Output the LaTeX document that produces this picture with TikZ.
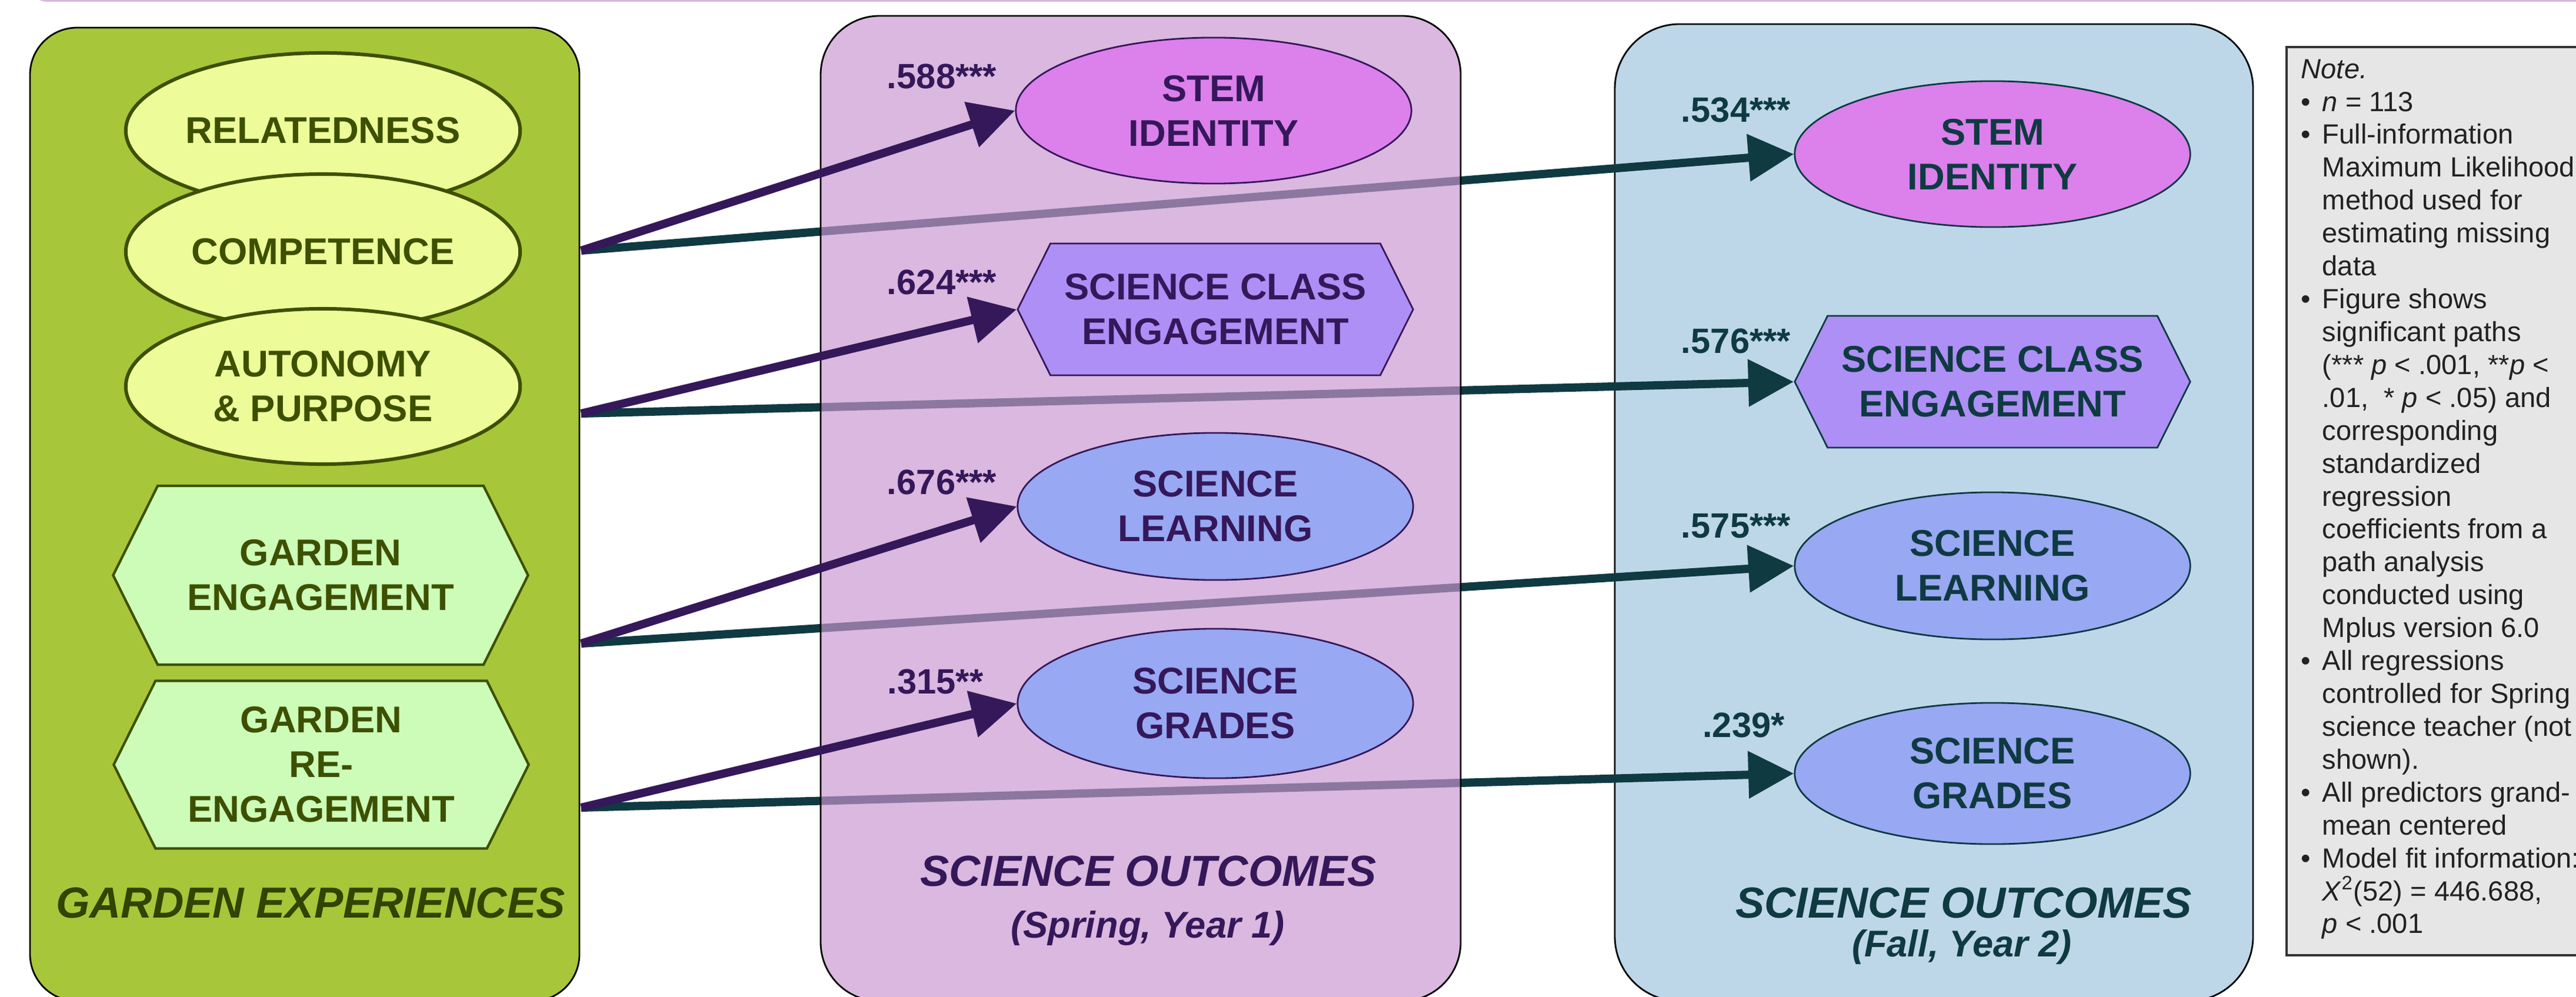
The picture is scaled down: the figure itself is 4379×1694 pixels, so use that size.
\documentclass[tikz,border=0pt]{standalone}
\usepackage{fontspec}
\setmainfont{Liberation Sans}
\usetikzlibrary{shapes.geometric,shapes.symbols,arrows.meta}

\definecolor{topbar}{RGB}{218,184,223}
\definecolor{gpanel}{RGB}{168,198,57}
\definecolor{gfill}{RGB}{237,251,153}
\definecolor{ghexfill}{RGB}{204,252,184}
\definecolor{gdark}{RGB}{61,80,0}
\definecolor{gtitle}{RGB}{47,69,0}
\definecolor{ppanel}{RGB}{200,149,207}
\definecolor{pdark}{RGB}{53,24,90}
\definecolor{bpanel}{RGB}{189,215,233}
\definecolor{tdark}{RGB}{15,58,66}
\definecolor{stemc}{RGB}{220,128,236}
\definecolor{classc}{RGB}{174,143,245}
\definecolor{scic}{RGB}{152,168,243}
\definecolor{notefill}{RGB}{230,230,230}
\definecolor{notetext}{RGB}{34,34,34}

\newcommand\shapefont{\fontsize{18}{21.6}\selectfont\bfseries}
\newcommand\coeffont{\fontsize{17}{20}\selectfont\bfseries}
\newcommand\titlefont{\fontsize{21}{25}\selectfont\bfseries\itshape}
\newcommand\subfont{\fontsize{18}{21.6}\selectfont\bfseries\itshape}
\newcommand\notefont{\fontsize{13.4}{15.9}\selectfont}
\newcommand\itm{\makebox[0.36cm][l]{\textbullet}}
\newcommand\cnt{\hspace*{0.36cm}}

\begin{document}
\begin{tikzpicture}[x=0.01cm,y=-0.01cm,
  greenoval/.style={ellipse,draw=gdark,line width=1.7pt,fill=gfill,text=gdark,
    minimum width=6.7cm,minimum height=2.64cm,inner sep=0pt,align=center,font=\shapefont},
  greenhex/.style={signal,signal to=east and west,signal pointer angle=127,draw=gdark,
    line width=1.2pt,fill=ghexfill,text=gdark,minimum width=7.05cm,inner sep=0pt,
    align=center,font=\shapefont},
  outoval/.style={ellipse,draw=#1,text=#1,line width=0.8pt,minimum width=6.72cm,
    minimum height=2.48cm,inner sep=0pt,align=center,font=\shapefont},
  outhex/.style={signal,signal to=east and west,signal pointer angle=127,draw=#1,text=#1,
    line width=0.8pt,fill=classc,minimum width=6.72cm,minimum height=2.24cm,inner sep=0pt,
    align=center,font=\shapefont},
  coef/.style={text=#1,font=\coeffont,inner sep=0pt},
  paneltitle/.style={text=#1,font=\titlefont,inner sep=0pt},
  panelsub/.style={text=#1,font=\subfont,inner sep=0pt},
  parrow/.style={draw=pdark,line width=4pt,-{Triangle[length=22pt,width=22pt]}},
  tarrow/.style={draw=tdark,line width=4pt,-{Triangle[length=22pt,width=22pt]}}]

\useasboundingbox (0,0) rectangle (4379,1694);
\clip (0,0) rectangle (4379,1694);

% strip at the top edge
\fill[topbar,rounded corners=0.3cm] (50,-100) rectangle (4500,3);

% garden experiences
\draw[fill=gpanel,line width=0.8pt,rounded corners=0.8cm] (51,47) rectangle (985,1702);
\node[greenoval] (rel) at (549,222) {RELATEDNESS};
\node[greenoval] (comp) at (549,428) {COMPETENCE};
\node[greenoval] (auto) at (549,657) {AUTONOMY\\\& PURPOSE};
\node[greenhex,minimum height=3.04cm] (geng) at (545,978) {GARDEN\\ENGAGEMENT};
\node[greenhex,minimum height=2.85cm] (greng) at (546,1300) {GARDEN\\RE-\\ENGAGEMENT};
\node[paneltitle=gtitle] (gtit) at (528,1535) {GARDEN EXPERIENCES};
\coordinate (oComp) at (988,426);
\coordinate (oAuto) at (988,703);
\coordinate (oEng) at (988,1094);
\coordinate (oReEng) at (988,1373);

% fall, year 2
\draw[fill=bpanel,line width=0.8pt,rounded corners=1.1cm] (2745,41) rectangle (3830,1702);
\node[outoval=tdark,fill=stemc] (stem2) at (3387,262) {STEM\\IDENTITY};
\node[outhex=tdark] (class2) at (3387,649) {SCIENCE CLASS\\ENGAGEMENT};
\node[outoval=tdark,fill=scic,minimum height=2.5cm] (learn2) at (3387,962) {SCIENCE\\LEARNING};
\node[outoval=tdark,fill=scic,minimum height=2.4cm] (grade2) at (3387,1315) {SCIENCE\\GRADES};
\node[paneltitle=tdark] (ftit) at (3338,1535) {SCIENCE OUTCOMES};
\node[panelsub=tdark] (fsub) at (3335,1610) {(Fall, Year 2)};

\draw[tarrow] (oComp) -- (stem2.west);
\draw[tarrow] (oAuto) -- (class2.west);
\draw[tarrow] (oEng) -- (learn2.west);
\draw[tarrow] (oReEng) -- (grade2.west);

\node[coef=tdark] (c5) at (2951,187) {.534***};
\node[coef=tdark] (c6) at (2951,580) {.576***};
\node[coef=tdark] (c7) at (2951,894) {.575***};
\node[coef=tdark] (c8) at (2964,1233) {.239*};

% spring, year 1
\draw[fill=ppanel,fill opacity=0.67,line width=0.8pt,rounded corners=1cm] (1395,27) rectangle (2483,1702);
\node[outoval=pdark,fill=stemc] (stem1) at (2063,188) {STEM\\IDENTITY};
\node[outhex=pdark] (class1) at (2066,526) {SCIENCE CLASS\\ENGAGEMENT};
\node[outoval=pdark,fill=scic,minimum height=2.5cm] (learn1) at (2066,861) {SCIENCE\\LEARNING};
\node[outoval=pdark,fill=scic,minimum height=2.54cm] (grade1) at (2066,1196) {SCIENCE\\GRADES};
\node[paneltitle=pdark] (stit) at (1952,1481) {SCIENCE OUTCOMES};
\node[panelsub=pdark] (ssub) at (1951,1578) {(Spring, Year 1)};

\draw[parrow] (oComp) -- (stem1.west);
\draw[parrow] (oAuto) -- (class1.west);
\draw[parrow] (oEng) -- (learn1.west);
\draw[parrow] (oReEng) -- (grade1.west);

\node[coef=pdark] (c1) at (1601,130) {.588***};
\node[coef=pdark] (c2) at (1601,480) {.624***};
\node[coef=pdark] (c3) at (1601,820) {.676***};
\node[coef=pdark] (c4) at (1590,1159) {.315**};

% note
\draw[fill=notefill,draw=black!80,line width=1pt] (3887,80) rectangle (4450,1624);
\node[anchor=north west,inner sep=0pt,align=left,font=\notefont,text=notetext] (note) at (3911,100)
  {\textit{Note.}\\
   \itm\textit{n} = 113\\
   \itm Full-information\\
   \cnt Maximum Likelihood\\
   \cnt method used for\\
   \cnt estimating missing\\
   \cnt data\\
   \itm Figure shows\\
   \cnt significant paths\\
   \cnt (*** \textit{p} < .001, **\textit{p} <\\
   \cnt .01,\ \ * \textit{p} < .05) and\\
   \cnt corresponding\\
   \cnt standardized\\
   \cnt regression\\
   \cnt coefficients from a\\
   \cnt path analysis\\
   \cnt conducted using\\
   \cnt Mplus version 6.0\\
   \itm All regressions\\
   \cnt controlled for Spring\\
   \cnt science teacher (not\\
   \cnt shown).\\
   \itm All predictors grand-\\
   \cnt mean centered\\
   \itm Model fit information:\\
   \cnt \textit{X}\textsuperscript{2}(52) = 446.688,\\
   \cnt \textit{p} < .001};
\end{tikzpicture}
\end{document}
